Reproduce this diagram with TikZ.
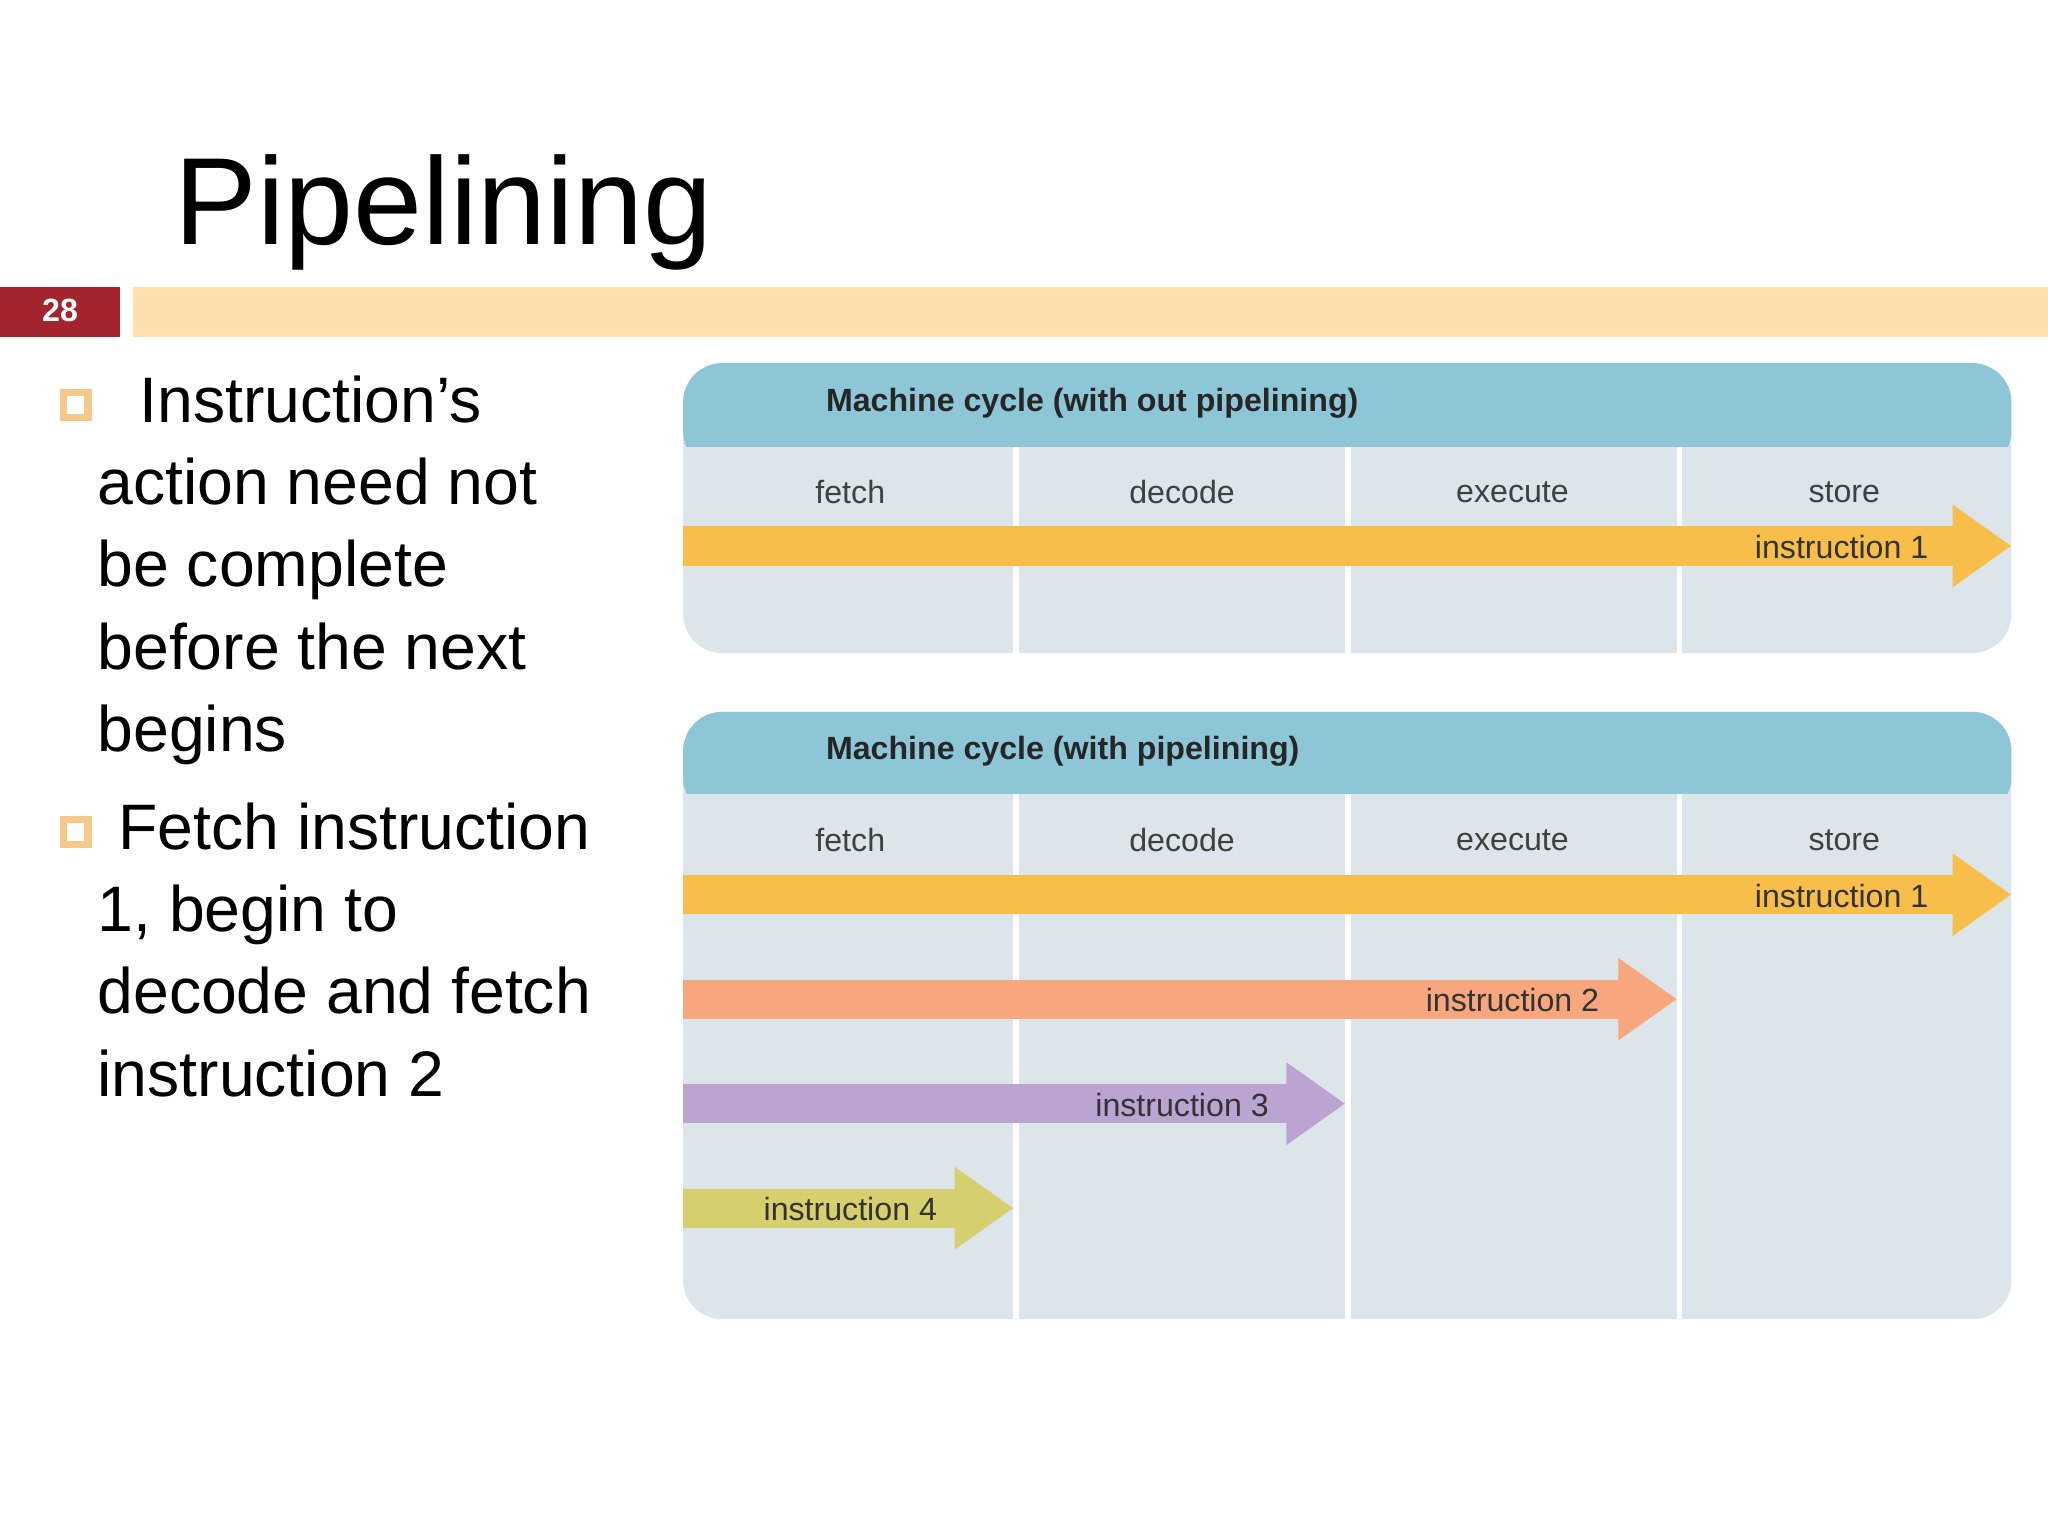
\documentclass[tikz,border=0pt]{standalone}
\usepackage{fontspec}
\setmainfont{Liberation Sans}
\usetikzlibrary{arrows.meta}
\definecolor{hdrblue}{HTML}{8DC6D6}
\definecolor{bodygray}{HTML}{DCE5E9}
\definecolor{barbeige}{HTML}{FFDFAE}
\definecolor{numred}{HTML}{A3232E}
\definecolor{arrorange}{HTML}{F8BE4A}
\definecolor{arrsalmon}{HTML}{F7A67E}
\definecolor{arrpurple}{HTML}{BBA3D2}
\definecolor{arrolive}{HTML}{D6CF6E}
\definecolor{bulletorange}{HTML}{F6C98A}
\tikzset{
  panel/.style={fill=bodygray, rounded corners=0.3cm},
  stage/.style={font=\fontsize{7}{8}\selectfont, text=black!75},
  caption/.style={font=\bfseries\fontsize{7}{9}\selectfont, text=black!85, anchor=west},
  instr/.style={font=\fontsize{7}{8}\selectfont, text=black!80},
  flow/.style={line width=0.3cm, -{Triangle[length=0.45cm,width=0.6cm]}},
  bullet/.style={draw=bulletorange, line width=1.6pt, minimum size=0.19cm, inner sep=0pt},
  bodytext/.style={font=\fontsize{14}{17.9}\selectfont, anchor=north west, align=left, inner sep=0pt}
}
\begin{document}
\begin{tikzpicture}[x=0.01cm, y=-0.01cm]
    \useasboundingbox[fill=white] (0,0) rectangle (1568,1176);
    % Title
    \node[anchor=base west, inner sep=0pt, font=\fontsize{27}{30}\selectfont] (title) at (133,187) {Pipelining};
    \fill[numred] (0,220) rectangle (92,258);
    \node[text=white, font=\bfseries\fontsize{7}{8}\selectfont] (num) at (46,238) {28};
    \fill[barbeige] (102,220) rectangle (1568,258);

    % Bullets
    \node[bullet] (b1) at (58,310) {};
    \node[bodytext] (t1) at (74,287) {\hspace*{0.32cm}Instruction’s\\action need not\\be complete\\before the next\\begins};
    \node[bullet] (b2) at (58,637) {};
    \node[bodytext] (t2) at (74,614) {\hspace*{0.16cm}Fetch instruction\\1, begin to\\decode and fetch\\instruction 2};

    % Top panel
    \fill[panel] (523,278) rectangle (1540,500);
    \fill[hdrblue, rounded corners=0.3cm] (523,278) rectangle (1540,360);
    \fill[bodygray] (523,342) rectangle (1540,362);
    \node[caption] (cap1) at (620,309) {Machine cycle (with out pipelining)};
    \foreach \x in {778,1032,1286} \draw[white, line width=1.2pt] (\x,342) -- (\x,500);
    \node[stage] (f1) at (651,377) {fetch};
    \node[stage] (d1) at (905,377) {decode};
    \node[stage] (e1) at (1158,377) {execute};
    \node[stage] (s1) at (1412,377) {store};
    \coordinate (a1s) at (523,418);
    \coordinate (a1e) at (1540,418);
    \draw[flow, arrorange] (a1s) -- (a1e);
    \node[instr] (i1) at (1410,419) {instruction 1};

    % Bottom panel
    \fill[panel] (523,545) rectangle (1540,1010);
    \fill[hdrblue, rounded corners=0.3cm] (523,545) rectangle (1540,625);
    \fill[bodygray] (523,608) rectangle (1540,628);
    \node[caption] (cap2) at (620,575) {Machine cycle (with pipelining)};
    \foreach \x in {778,1032,1286} \draw[white, line width=1.2pt] (\x,608) -- (\x,1010);
    \node[stage] (f2) at (651,643) {fetch};
    \node[stage] (d2) at (905,643) {decode};
    \node[stage] (e2) at (1158,643) {execute};
    \node[stage] (s2) at (1412,643) {store};
    \coordinate (p1s) at (523,685);
    \coordinate (p1e) at (1540,685);
    \coordinate (p2s) at (523,765);
    \coordinate (p2e) at (1284,765);
    \coordinate (p3s) at (523,845);
    \coordinate (p3e) at (1030,845);
    \coordinate (p4s) at (523,925);
    \coordinate (p4e) at (776,925);
    \draw[flow, arrorange] (p1s) -- (p1e);
    \draw[flow, arrsalmon] (p2s) -- (p2e);
    \draw[flow, arrpurple] (p3s) -- (p3e);
    \draw[flow, arrolive] (p4s) -- (p4e);
    \node[instr] (j1) at (1410,686) {instruction 1};
    \node[instr] (j2) at (1158,766) {instruction 2};
    \node[instr] (j3) at (905,846) {instruction 3};
    \node[instr] (j4) at (651,926) {instruction 4};
\end{tikzpicture}
\end{document}
